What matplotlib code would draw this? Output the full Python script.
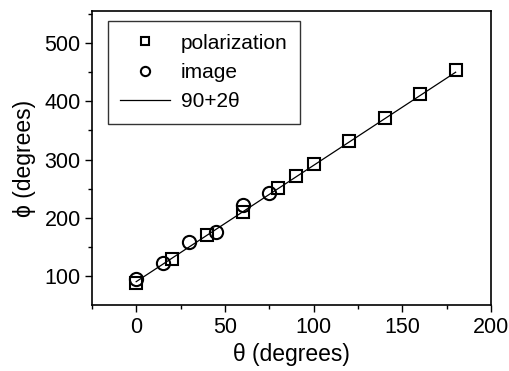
import matplotlib.pyplot as plt
import numpy as np

plt.rcParams['font.family'] = ['Liberation Sans', 'DejaVu Sans']

# polarization data (squares)
theta_pol = [0, 20, 40, 60, 80, 90, 100, 120, 140, 160, 180]
phi_pol = [88, 129, 171, 209, 251, 271, 292, 332, 371, 412, 453]

# image data (circles)
theta_img = [0, 15, 30, 45, 60, 75]
phi_img = [95, 122, 159, 176, 221, 243]

# fit line 90+2theta
theta_fit = np.array([0, 180])
phi_fit = 90 + 2 * theta_fit

fig = plt.figure(figsize=(5.10, 3.71), dpi=100)
ax = fig.add_axes([0.180, 0.178, 0.783, 0.792])

ax.plot(theta_pol, phi_pol, 's', mfc='none', mec='k', ms=9, mew=1.5, label='polarization')
ax.plot(theta_img, phi_img, 'o', mfc='none', mec='k', ms=9.5, mew=1.5, label='image')
ax.plot(theta_fit, phi_fit, '-', color='k', lw=0.9, label='90+2\u03b8')

ax.set_xlim(-25, 200)
ax.set_ylim(50, 555)
ax.set_xticks([0, 50, 100, 150, 200])
ax.set_xticks([-25, 25, 75, 125, 175], minor=True)
ax.set_yticks([100, 200, 300, 400, 500])
ax.set_yticks([150, 250, 350, 450, 550], minor=True)
ax.tick_params(direction='out', length=5, width=1, labelsize=15.5)
ax.tick_params(axis='x', pad=4)
ax.tick_params(axis='y', pad=3)
ax.tick_params(which='minor', direction='out', length=3, width=1)
ax.yaxis.set_ticks_position('left')
ax.xaxis.set_ticks_position('bottom')
for s in ax.spines.values():
    s.set_linewidth(1.2)

ax.set_xlabel('\u03b8 (degrees)', fontsize=16.5, labelpad=3)
ax.set_ylabel('\u03d5 (degrees)', fontsize=16.5, labelpad=6)

leg = ax.legend(loc='upper left', bbox_to_anchor=(16 / 399, 1 - 10 / 294),
                borderaxespad=0, fontsize=15, frameon=True, fancybox=False,
                edgecolor='k', handlelength=2.4, markerscale=0.7,
                labelspacing=0.5, handletextpad=0.5, borderpad=0.6)
leg.get_frame().set_linewidth(1.0)

plt.savefig('out.png', dpi=100)
